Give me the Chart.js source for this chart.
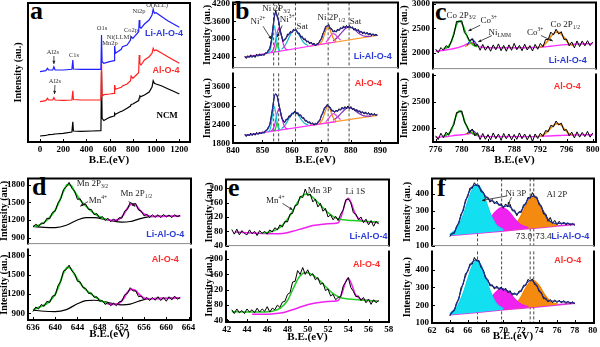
<!DOCTYPE html>
<html>
<head>
<meta charset="utf-8">
<script src="https://cdn.jsdelivr.net/npm/chart.js@4.4.1/dist/chart.umd.min.js"></script>
<style>
  html, body { margin: 0; padding: 0; background: #fff; }
  #fig { position: relative; width: 600px; height: 347px; overflow: hidden; }
  #fig canvas { position: absolute; }
  .tag { position: absolute; font: bold 26px "Liberation Serif", "Times New Roman", serif; line-height: 26px; color: #000; }
</style>
</head>
<body>
<div id="fig">
  <div class="tag" style="left:30px;top:-2px">a</div>
  <div class="tag" style="left:235px;top:-2px">b</div>
  <div class="tag" style="left:435px;top:-1px">c</div>
  <div class="tag" style="left:32px;top:174px">d</div>
  <div class="tag" style="left:228px;top:175px">e</div>
  <div class="tag" style="left:437px;top:175px">f</div>
</div>
<script>
// ---- survey (a) ----
const aX = [0,50,65,75,110,120,130,200,275,283,288,350,450,525,530,535,550,600,638,643,650,700,710,750,780,785,800,850,855,860,870,900,940,965,975,985,1000,1050,1100,1150,1200];
const aNcm = [6,6.7,7,7.3,7.5,7.8,8,8.7,10,20.3,11,10.7,11,11.3,70,23.7,21.5,24.7,26,28.7,27.7,30.7,31,33.7,36,37.5,38,41.5,44,46,45.5,47,50,55,61.3,58.7,58,56,53.3,50.7,48];
const aAlO4 = [40.3,41.3,43.7,42,42,44.3,42,41.7,42,51.3,42.5,42,42,42,80.3,46,47.3,48,48.7,57,52.7,54.7,56,58,61.3,66,63.7,69.3,87,78.7,77,82,85.3,88.7,93.7,91.3,92,88.7,85.3,82,78.7];
const aLiAlO4 = [70.3,71.3,73.7,72,72,75.3,72,72,72.7,82,73,72.7,72.7,72.7,107,80.3,78.7,80.3,81.3,96,88.7,92.7,95.3,97,102,105.3,103.7,110.3,122,115.3,113.7,118,122,127,132.7,128.7,129.3,125.3,121.3,118,114.7];
const aTicks = [0,200,400,600,800,1000,1200];

// ---- Ni 2p (b) ----
const bX = [844,844.5,845,845.5,846,846.5,847,847.5,848,848.5,849,849.5,850,850.5,851,851.5,852,852.5,853,853.5,854,854.5,855,855.5,856,856.5,857,857.5,858,858.5,859,859.5,860,860.5,861,861.5,862,862.5,863,863.5,864,864.5,865,865.5,866,866.5,867,867.5,868,868.5,869,869.5,870,870.5,871,871.5,872,872.5,873,873.5,874,874.5,875,875.5,876,876.5,877,877.5,878,878.5,879,879.5,880,880.5,881,881.5,882,882.5,883,883.5,884,884.5,885,885.5,886,886.5,887,887.5,888,888.5,889];
const bUpRaw = [2410,2335,2430,2375,2460,2370,2438,2370,2480,2410,2495,2425,2490,2435,2530,2520,2630,2670,2940,3350,3720,3960,3750,3620,3260,3110,2910,3000,3010,3170,3150,3260,3210,3330,3280,3320,3180,3200,3050,3090,2970,3015,2890,2935,2830,2895,2800,2860,2760,2850,2830,2960,2990,3190,3260,3440,3430,3490,3340,3350,3230,3290,3230,3340,3280,3385,3340,3445,3370,3460,3380,3460,3370,3415,3300,3365,3270,3325,3210,3265,3170,3245,3160,3230,3130,3205,3110,3180,3100,3170,3100];
const bLoRaw = [2103,2022,2096,2046,2130,2053,2125,2063,2155,2088,2165,2108,2175,2125,2220,2220,2330,2390,2680,2940,3330,3370,3340,3050,2880,2610,2550,2460,2580,2560,2690,2650,2770,2740,2840,2740,2790,2680,2720,2605,2630,2510,2540,2450,2500,2415,2465,2385,2450,2415,2520,2530,2710,2760,2940,2950,3050,2960,2960,2830,2860,2790,2870,2820,2910,2860,2960,2895,2980,2915,3000,2915,2980,2880,2930,2835,2890,2800,2850,2760,2820,2740,2810,2730,2790,2705,2770,2695,2760,2690,2730];
const bFitX = [844,846,848,850,851,852,852.5,853,853.5,854,854.5,855,855.5,856,856.5,857,857.5,858,859,860,861,862,863,864,865,866,867,868,869,869.5,870,870.5,871,871.5,872,872.5,873,873.5,874,874.5,875,876,877,878,879,880,881,882,884,886,889];
const bUpFit = [2380,2400,2435,2455,2500,2590,2700,2920,3300,3750,3900,3800,3580,3300,3080,2960,2960,3040,3170,3240,3300,3220,3100,3000,2930,2880,2830,2800,2850,2920,3020,3150,3300,3400,3450,3440,3380,3320,3270,3250,3260,3320,3370,3400,3420,3400,3350,3300,3220,3170,3120];
const bLoFit = [2063,2080,2110,2140,2190,2290,2420,2650,2980,3280,3390,3300,3100,2850,2650,2520,2490,2540,2640,2740,2800,2760,2680,2590,2510,2460,2430,2420,2480,2560,2680,2800,2900,2980,3010,2990,2930,2870,2830,2820,2830,2870,2910,2940,2950,2940,2900,2850,2790,2750,2710];
const bCyanX = [852,852.5,853,853.5,854,854.5,855,855.5,856];
const bUpCyan = [2521,2581,2795,3202,3449,3219,2829,2632,2589];
const bLoCyan = [2179,2230,2416,2768,2982,2782,2444,2272,2235];
const bGreenX = [854,854.4,854.7,855,855.3,855.6,856];
const bUpGreen = [2553,2619,2766,2866,2776,2639,2587];
const bLoGreen = [2205,2263,2389,2476,2397,2280,2233];
const bMagX = [853,853.5,854,854.5,855,855.6,856.2,856.7,857.2,857.8,858.5];
const bUpMag = [2549,2605,2733,2958,3214,3376,3235,2995,2788,2664,2632];
const bLoMag = [2202,2249,2358,2549,2767,2905,2784,2580,2403,2299,2271];
const bSatX = [856.5,857.5,858.5,859.5,860.8,862,863,864,865.5];
const bUpSat = [2643,2753,2936,3149,3305,3210,3032,2875,2775];
const bLoSat = [2277,2365,2509,2675,2799,2726,2588,2467,2390];
const bHalfX = [869.5,870.3,871,871.6,872.2,872.8,873.4,874.1,875];
const bUpHalf = [2836,2949,3142,3325,3411,3344,3180,3010,2921];
const bLoHalf = [2455,2559,2738,2907,2986,2924,2771,2612,2528];
const bHalf2X = [871.5,872.5,873.3,874,874.7,875.5,876.5];
const bUpHalf2 = [2884,3006,3127,3180,3149,3054,2964];
const bLoHalf2 = [2494,2600,2705,2751,2725,2642,2564];
const bSat2X = [874,875.5,877,878.2,879.2,880.3,881.5,883,885,887];
const bUpSat2 = [2935,3058,3232,3354,3403,3381,3293,3169,3089,3092];
const bLoSat2 = [2539,2645,2795,2902,2943,2925,2848,2741,2673,2675];
const bBgX = [844,875];
const bUpBg = [2380,2904];
const bLoBg = [2060,2500];
const bBg2X = [866,889];
const bUpBg2 = [2752,3120];
const bLoBg2 = [2380,2700];
const bGuides = [853.8,855.5,861.2,872.3,879.4];
const bTicksX = [840,850,860,870,880,890];
const bUpTicksY = [2400,3000,3600,4200];
const bLoTicksY = [1800,2400,3000,3600];

// ---- Co 2p (c) ----
const cX = [776,776.4,776.8,777.2,777.6,778,778.4,778.8,779.2,779.6,780,780.4,780.8,781.2,781.6,782,782.4,782.8,783.2,783.6,784,784.4,784.8,785.2,785.6,786,786.4,786.8,787.2,787.6,788,788.4,788.8,789.2,789.6,790,790.4,790.8,791.2,791.6,792,792.4,792.8,793.2,793.6,794,794.4,794.8,795.2,795.6,796,796.4,796.8,797.2,797.6,798,798.4,798.8,799.2,799.6,800];
const cUpRaw = [2074,2000,2105,2050,2145,2100,2240,2370,2640,2630,2650,2410,2350,2240,2290,2140,2170,2050,2170,2050,2140,2030,2160,2060,2180,2040,2150,2030,2160,2050,2190,2060,2150,2040,2175,2055,2145,2035,2170,2070,2190,2120,2270,2270,2420,2360,2480,2380,2430,2270,2280,2140,2220,2100,2240,2125,2240,2140,2245,2145,2220];
const cLoRaw = [1861,1790,1910,1825,1930,1870,2000,2070,2300,2310,2330,2120,2040,1920,1990,1860,1920,1790,1905,1795,1885,1785,1915,1805,1895,1775,1905,1805,1895,1785,1885,1795,1915,1805,1895,1785,1885,1755,1895,1810,1910,1850,1960,1940,2060,2030,2140,2065,2100,1960,1980,1860,1930,1820,1935,1835,1925,1845,1945,1835,1915];
const cBgX = [776,777,778,779,780,781,781.5,782,783,785,788,791,792,793,794,795,796,797,798,800];
const cUpBg = [2030,2045,2065,2090,2130,2190,2210,2170,2110,2100,2100,2105,2110,2125,2140,2155,2165,2172,2178,2185];
const cLoBg = [1830,1840,1850,1870,1880,1900,1910,1880,1850,1845,1845,1845,1850,1856,1862,1867,1872,1875,1878,1880];
const cCoX = [777.2,777.8,778.4,778.9,779.3,779.7,780.1,780.6,781.1,781.7,782.3];
const cUpCo = [2085,2110,2220,2450,2610,2650,2580,2400,2250,2160,2120];
const cLoCo = [1860,1890,1960,2150,2290,2330,2260,2080,1960,1900,1870];
const cCo3X = [780.8,781.2,781.6,782,782.4];
const cUpCo3 = [2150,2230,2270,2220,2140];
const cLoCo3 = [1900,1950,1970,1930,1880];
const cNiX = [780.5,781,781.5,782,782.6];
const cUpNi = [2120,2170,2190,2160,2115];
const cLoNi = [1890,1915,1930,1905,1870];
const cHalfX = [791.8,792.4,793,793.6,794.2,794.7,795.2,795.8,796.4,797];
const cUpHalf = [2110,2140,2220,2330,2410,2420,2380,2280,2180,2150];
const cLoHalf = [1852,1875,1930,2010,2075,2090,2060,1970,1900,1880];
const cTicksX = [776,780,784,788,792,796,800];
const cTicksY = [2000,2500,3000];

// ---- Mn 2p (d) ----
const dX = [636,636.5,637,637.5,638,638.5,639,639.5,640,640.5,641,641.5,642,642.5,643,643.5,644,644.5,645,645.5,646,646.5,647,647.5,648,648.5,649,649.5,650,650.5,651,651.5,652,652.5,653,653.5,654,654.5,655,655.5,656,656.5,657,657.5,658,658.5,659,659.5,660,660.5,661,661.5,662,662.5];
const dUpRaw = [1080,1130,1090,1150,1140,1230,1220,1330,1350,1490,1560,1720,1760,1840,1740,1690,1550,1560,1460,1470,1380,1380,1290,1310,1230,1260,1190,1230,1170,1220,1170,1240,1230,1350,1380,1500,1470,1480,1370,1350,1270,1300,1240,1290,1245,1290,1240,1295,1250,1285,1240,1290,1255,1280];
const dLoRaw = [930,1000,970,1040,1010,1090,1070,1170,1180,1330,1400,1560,1580,1650,1560,1520,1400,1390,1300,1290,1210,1220,1150,1160,1090,1100,1040,1070,1020,1060,1020,1080,1090,1190,1210,1300,1250,1250,1160,1170,1110,1150,1100,1150,1105,1160,1100,1150,1090,1160,1110,1170,1120,1150];
const dMainX = [636,637,638,639,640,640.8,641.5,642.2,642.8,643.5,644.5,645.5,646.5,647.5,648.5,649.5];
const dUpMain = [1095,1110,1160,1245,1370,1530,1690,1800,1790,1680,1540,1440,1350,1280,1230,1200];
const dLoMain = [955,995,1030,1090,1200,1360,1530,1615,1600,1500,1370,1270,1200,1140,1085,1050];
const dBgX = [636,638,640,642,644,645.5,647,649,650.5,652,653.5,655,656.5,658,660,662.5];
const dUpBg = [1090,1075,1070,1110,1200,1240,1240,1210,1180,1165,1175,1215,1250,1260,1262,1265];
const dLoBg = [953,935,930,960,1050,1100,1105,1080,1050,1035,1045,1090,1125,1133,1135,1140];
const dHalfX = [649.5,650.5,651.5,652.3,653,653.7,654.4,655.2,656,657,658.5,660,662.5];
const dUpHalf = [1200,1195,1215,1290,1400,1470,1460,1370,1300,1265,1262,1265,1268];
const dLoHalf = [1050,1040,1060,1130,1230,1275,1260,1190,1140,1128,1130,1135,1140];
const dTicksX = [636,640,644,648,652,656,660,664];
const dTicksY = [900,1200,1500,1800];

// ---- Mn 3p / Li 1s (e) ----
const eX = [42.5,42.75,43,43.25,43.5,43.75,44,44.25,44.5,44.75,45,45.25,45.5,45.75,46,46.25,46.5,46.75,47,47.25,47.5,47.75,48,48.25,48.5,48.75,49,49.25,49.5,49.75,50,50.25,50.5,50.75,51,51.25,51.5,51.75,52,52.25,52.5,52.75,53,53.25,53.5,53.75,54,54.25,54.5,54.75,55,55.25,55.5,55.75,56,56.25,56.5,56.75,57];
const eUpRaw = [85,72,86,70,82,74,70,84,73,80,68,82,74,80,72,84,78,90,84,98,92,108,106,128,130,152,154,178,174,198,180,184,162,170,148,158,136,144,120,126,112,122,110,128,140,168,170,160,132,128,112,120,104,114,98,110,94,108,100];
const eLoRaw = [68,58,70,60,66,58,70,62,68,60,72,62,70,64,76,62,72,68,80,74,88,90,108,112,140,142,170,160,178,160,172,156,162,146,152,134,138,118,122,104,108,94,100,102,130,140,152,126,116,102,104,92,100,86,96,82,94,86,92];
const eUpMnX = [45.5,46.3,47,47.6,48.2,48.8,49.4,50,50.6,51.3,52,52.7,53.5,54.5,55.5,57];
const eUpMn = [75,78,86,100,122,152,178,184,172,152,132,118,112,110,108,106];
const eLoMnX = [42.5,44,45.5,46.5,47.3,48,48.6,49.2,49.8,50.4,51,51.7,52.4,53.2,54,55,56,57];
const eLoMn = [63,62,62,64,72,92,125,155,165,160,148,130,112,100,96,94,92,90];
const eUpLiX = [42.8,44,45.5,46.5,47.5,48.5,49.5,50.5,51.5,52.5,53,53.4,53.7,54,54.3,54.7,55.2,56,57];
const eUpLi = [78,76,74,73,74,80,88,96,100,102,104,130,160,172,158,128,112,106,104];
const eLoLiX = [44.5,45.5,46.5,47.5,48.5,49.5,50.5,51.5,52.5,53,53.4,53.7,54,54.3,54.7,55.2,56,57];
const eLoLi = [56,56,57,60,68,77,84,88,90,92,112,138,150,136,108,96,92,90];
const eTicksX = [42,44,46,48,50,52,54,56,58];
const eTicksY = [40,80,120,160,200];

// ---- Ni 3p / Al 2p (f) ----
const fX = [64,64.25,64.5,64.75,65,65.25,65.5,65.75,66,66.25,66.5,66.75,67,67.25,67.5,67.75,68,68.25,68.5,68.75,69,69.25,69.5,69.75,70,70.25,70.5,70.75,71,71.25,71.5,71.75,72,72.25,72.5,72.75,73,73.25,73.5,73.75,74,74.25,74.5,74.75,75,75.25,75.5,75.75,76,76.25,76.5,76.75,77,77.25,77.5,77.75,78];
const fUpRaw = [152,172,170,212,228,282,300,362,380,432,430,462,445,448,410,408,372,380,350,366,340,356,330,342,315,340,322,338,300,305,272,296,290,335,338,378,372,405,378,380,335,330,282,282,240,262,228,245,220,240,222,236,220,232,218,228,216];
const fLoRaw = [140,165,168,215,232,298,318,378,388,432,430,468,448,452,410,398,350,345,308,315,290,308,288,302,282,295,270,282,256,270,255,280,276,312,310,345,335,348,316,312,276,272,236,240,218,232,214,230,214,228,212,226,210,222,208,220,206];
const fFitX = [64,64.5,65,65.5,66,66.5,67,67.5,68,68.5,69,69.5,70,70.5,71,71.5,72,72.5,73,73.5,74,74.5,75,76,77,78];
const fUpFit = [159,178,235,310,390,440,450,420,385,362,350,338,325,330,310,285,300,345,380,385,345,295,250,228,228,222];
const fLoFit = [146,175,240,325,395,440,455,420,360,318,300,296,290,280,265,262,285,318,340,325,285,245,225,222,218,212];
const fBaseX = [64,66,68,70,72,74,76,78];
const fUpBase = [158,167,176,185,194,203,213,222];
const fLoBase = [146,155,165,174,183,192,202,211];
const fCyanX = [64,64.8,65.5,66,66.5,67,67.5,68,68.5,69.2,70];
const fUpCyan = [165,200,276,353,422,452,427,362,289,219,192];
const fLoCyan = [153,190,268,347,420,450,424,357,282,210,181];
const fMagX = [66.8,67.6,68.3,69,69.8,70.6,71.3,72,72.8];
const fUpMag = [177,198,238,289,319,296,252,218,204];
const fLoMag = [164,185,220,265,293,273,234,205,192];
const fAlX = [70.5,71.3,72,72.6,73.3,74,74.6,75.3,76.1];
const fUpAl = [191,217,274,339,380,345,286,235,217];
const fLoAl = [179,202,249,305,339,311,261,220,205];
const fGuides = [67.1,69.8,73.0,73.4];
const fTicksX = [62,64,66,68,70,72,74,76,78,80];
const fTicksY = [100,200,300,400];

const SERIF = '"Liberation Serif","Times New Roman",serif';
const SANS = '"Liberation Sans",Arial,sans-serif';
const BLUE = {family: SANS, bold: true, size: 9, color: '#2b3bd6'};
const RED = {family: SANS, bold: true, size: 9, color: '#ff2a2a'};
const TINY = {size: 6.5, color: '#333'};

Chart.defaults.font.family = SERIF;
Chart.defaults.font.size = 9;
Chart.defaults.font.weight = 'bold';
Chart.defaults.color = '#000';
Chart.defaults.animation = false;
Chart.defaults.elements.point.radius = 0;
Chart.defaults.plugins.legend.display = false;
Chart.defaults.plugins.tooltip.enabled = false;

function line(xs, ys, color, extra) {
  return Object.assign({
    data: xs.map((x, i) => ({x, y: ys[i]})),
    borderColor: color, borderWidth: 1, fill: false, tension: 0
  }, extra || {});
}
const smooth = {cubicInterpolationMode: 'monotone', borderWidth: 1.2};

// text with ^{sup} and _{sub} runs, centred on (x, y)
function drawRich(ctx, str, x, y, n) {
  const size = n.size || 9, fam = n.family || SERIF, wt = n.bold ? 'bold ' : '';
  const parts = [];
  str.split(/(\^\{[^}]*\}|_\{[^}]*\})/).forEach(s => {
    if (!s) return;
    if (s.startsWith('^{')) parts.push({t: s.slice(2, -1), k: 'sup'});
    else if (s.startsWith('_{')) parts.push({t: s.slice(2, -1), k: 'sub'});
    else parts.push({t: s, k: ''});
  });
  const fontOf = p => wt + (p.k ? size * 0.62 : size) + 'px ' + fam;
  let w = 0;
  parts.forEach(p => { ctx.font = fontOf(p); p.w = ctx.measureText(p.t).width; w += p.w; });
  let cx = x - w / 2;
  ctx.fillStyle = n.color || '#222';
  ctx.textBaseline = 'middle';
  ctx.textAlign = 'left';
  parts.forEach(p => {
    ctx.font = fontOf(p);
    const dy = p.k === 'sup' ? -size * 0.35 : p.k === 'sub' ? size * 0.3 : 0;
    ctx.fillText(p.t, cx, y + dy);
    cx += p.w;
  });
}

function arrow(ctx, x1, y1, x2, y2) {
  ctx.beginPath(); ctx.moveTo(x1, y1); ctx.lineTo(x2, y2); ctx.stroke();
  const a = Math.atan2(y2 - y1, x2 - x1), h = 3.5;
  ctx.beginPath();
  ctx.moveTo(x2, y2);
  ctx.lineTo(x2 - h * Math.cos(a - 0.45), y2 - h * Math.sin(a - 0.45));
  ctx.lineTo(x2 - h * Math.cos(a + 0.45), y2 - h * Math.sin(a + 0.45));
  ctx.closePath(); ctx.fill();
}

// frame, divider, inward ticks, dashed guides and labels
Chart.register({
  id: 'decor',
  beforeDatasetsDraw(chart, args, o) {
    if (!o.vlines) return;
    const {ctx, chartArea: a} = chart, sx = chart.scales.x;
    ctx.save();
    ctx.setLineDash([3, 2]); ctx.lineWidth = 0.9; ctx.strokeStyle = '#333';
    o.vlines.forEach(v => {
      const px = sx.getPixelForValue(v);
      ctx.beginPath(); ctx.moveTo(px, a.top); ctx.lineTo(px, a.bottom); ctx.stroke();
    });
    ctx.restore();
  },
  afterDraw(chart, args, o) {
    const {ctx, chartArea: a} = chart, sx = chart.scales.x, sy = chart.scales.y;
    ctx.save();
    ctx.strokeStyle = '#000'; ctx.lineWidth = 2; ctx.lineCap = 'square';
    ctx.beginPath();
    ctx.moveTo(a.left, a.top); ctx.lineTo(a.left, a.bottom);
    ctx.moveTo(a.right, a.top); ctx.lineTo(a.right, a.bottom);
    if (o.part !== 'lower') { ctx.moveTo(a.left, a.top); ctx.lineTo(a.right, a.top); }
    if (o.part !== 'upper') { ctx.moveTo(a.left, a.bottom); ctx.lineTo(a.right, a.bottom); }
    ctx.stroke();
    if (o.part === 'upper') {
      ctx.strokeStyle = '#8a8a8a'; ctx.lineWidth = 1; ctx.lineCap = 'butt';
      ctx.beginPath(); ctx.moveTo(a.left, a.bottom); ctx.lineTo(a.right, a.bottom); ctx.stroke();
    }
    ctx.strokeStyle = '#000'; ctx.lineWidth = 1; ctx.lineCap = 'butt';
    if (sy.options.ticks.display) sy.ticks.forEach(t => {
      const py = Math.round(sy.getPixelForValue(t.value)) + 0.5;
      ctx.beginPath(); ctx.moveTo(a.left, py); ctx.lineTo(a.left + 3, py); ctx.stroke();
    });
    if (sx.options.display) sx.ticks.forEach(t => {
      const px = Math.round(sx.getPixelForValue(t.value)) + 0.5;
      ctx.beginPath(); ctx.moveTo(px, a.bottom); ctx.lineTo(px, a.bottom - 3); ctx.stroke();
    });
    (o.notes || []).forEach(n => drawRich(ctx, n.t, sx.getPixelForValue(n.x), sy.getPixelForValue(n.y), n));
    ctx.strokeStyle = '#222'; ctx.fillStyle = '#222'; ctx.lineWidth = 0.8;
    (o.arrows || []).forEach(([x1, y1, x2, y2]) => arrow(ctx,
      sx.getPixelForValue(x1), sy.getPixelForValue(y1), sx.getPixelForValue(x2), sy.getPixelForValue(y2)));
    ctx.restore();
  }
});

const fig = document.getElementById('fig');

// box is the plot frame in page pixels; the canvas gets extra room for the axes
function panel(box, o) {
  const padT = 8, padR = 8, padB = o.showX ? o.padB : 3;
  const cv = document.createElement('canvas');
  cv.width = Math.round(box.r - box.l + o.padL + padR);
  cv.height = Math.round(box.b - box.t + padT + padB);
  cv.style.left = (box.l - o.padL) + 'px';
  cv.style.top = (box.t - padT) + 'px';
  fig.appendChild(cv);
  const fixed = list => s => { s.ticks = list.map(v => ({value: v})); };
  return new Chart(cv, {
    type: 'line',
    data: {datasets: o.datasets},
    options: {
      responsive: false,
      layout: {autoPadding: false, padding: {left: 0, top: padT, right: padR, bottom: o.showX ? 0 : padB}},
      scales: {
        x: {
          type: 'linear', min: o.x[0], max: o.x[1], display: !!o.showX,
          grid: {display: false, drawTicks: false}, border: {display: false},
          ticks: {padding: 2, autoSkip: false, maxRotation: 0, callback: v => String(v)},
          afterBuildTicks: fixed(o.xTicks || []),
          afterFit: s => { s.height = o.padB || 0; },
          title: {display: true, text: 'B.E.(eV)', font: {size: 11, weight: 'bold'}, padding: 0}
        },
        y: {
          type: 'linear', min: o.y[0], max: o.y[1],
          grid: {display: false, drawTicks: false}, border: {display: false},
          ticks: {display: !!o.yTicks, padding: 3, autoSkip: false, callback: v => String(v)},
          afterBuildTicks: fixed(o.yTicks || []),
          afterFit: s => { s.width = o.padL; },
          title: {display: true, text: 'Intensity (au.)', font: {size: 10, weight: 'bold'}, padding: 0}
        }
      },
      plugins: {decor: {part: o.part, notes: o.notes, arrows: o.arrows, vlines: o.vlines}}
    }
  });
}

// a: survey spectra
panel({l: 28, t: 3, r: 190, b: 142}, {
  part: 'single', showX: true, padL: 16, padB: 25,
  x: [-103, 1292], y: [0, 139], xTicks: aTicks,
  datasets: [
    line(aX, aLiAlO4, '#1f1fff', {borderWidth: 1.2}),
    line(aX, aAlO4, '#ff1f1f', {borderWidth: 1.2}),
    line(aX, aNcm, '#000', {borderWidth: 1.2})
  ],
  notes: [
    {x: 112, y: 90, t: 'Al2s', ...TINY}, {x: 293, y: 87, t: 'C1s', ...TINY},
    {x: 534, y: 114, t: 'O1s', ...TINY}, {x: 603, y: 99, t: 'Mn2p', ...TINY},
    {x: 681, y: 105, t: 'Ni(LLM)', ...TINY}, {x: 784, y: 112, t: 'Co2p', ...TINY},
    {x: 853, y: 131, t: 'Ni2p', ...TINY}, {x: 1009, y: 137, t: 'O(KLL)', ...TINY},
    {x: 129, y: 61, t: 'Al2s', ...TINY},
    {x: 1069, y: 108, t: 'Li-Al-O-4', ...BLUE},
    {x: 1086, y: 71, t: 'Al-O-4', ...RED},
    {x: 1095, y: 26, t: 'NCM', family: SERIF, bold: true, size: 9, color: '#000'}
  ],
  arrows: [[120, 86, 120, 78], [129, 57, 125, 48]]
});

// b: Ni 2p
const bSets = (raw, fit, cyan, green, mag, sat, half, half2, sat2, bg, bg2) => [
  line(bFitX, fit, '#2b2b9e', smooth),
  line(bX, raw, '#000'),
  line(bCyanX, cyan, '#14c8e0', smooth),
  line(bGreenX, green, '#10c010', smooth),
  line(bMagX, mag, '#e81ee8', smooth),
  line(bSatX, sat, '#14b4c8', smooth),
  line(bHalfX, half, '#f08a10', smooth),
  line(bHalf2X, half2, '#e040e0', smooth),
  line(bSat2X, sat2, '#8a2fc0', smooth),
  line(bBgX, bg, '#ff30ff', {borderWidth: 1.2}),
  line(bBg2X, bg2, '#ff9a30', {borderWidth: 1.2})
];
panel({l: 232.5, t: 2, r: 397, b: 73}, {
  part: 'upper', padL: 32, x: [840, 896], y: [2025, 4244], yTicks: bUpTicksY, vlines: bGuides,
  datasets: bSets(bUpRaw, bUpFit, bUpCyan, bUpGreen, bUpMag, bUpSat, bUpHalf, bUpHalf2, bUpSat2, bUpBg, bUpBg2),
  notes: [
    {x: 854.7, y: 4040, t: 'Ni 2P_{3/2}'}, {x: 848.5, y: 3590, t: 'Ni^{2+}'},
    {x: 858.4, y: 3650, t: 'Ni^{3+}'}, {x: 863.5, y: 3430, t: 'Sat'},
    {x: 873.4, y: 3710, t: 'Ni 2P_{1/2}'}, {x: 881.6, y: 3590, t: 'Sat'},
    {x: 887.4, y: 2400, t: 'Li-Al-O-4', ...BLUE}
  ],
  arrows: [[850.2, 3430, 853.0, 2990], [856.7, 3460, 855.0, 3060]]
});
panel({l: 232.5, t: 73, r: 397, b: 143}, {
  part: 'lower', showX: true, padL: 32, padB: 24, x: [840, 896], y: [1815, 4040],
  xTicks: bTicksX, yTicks: bLoTicksY, vlines: bGuides,
  datasets: bSets(bLoRaw, bLoFit, bLoCyan, bLoGreen, bLoMag, bLoSat, bLoHalf, bLoHalf2, bLoSat2, bLoBg, bLoBg2),
  notes: [{x: 885.9, y: 3708, t: 'Al-O-4', ...RED}]
});

// c: Co 2p
const cSets = (raw, bg, co, co3, ni, half) => [
  line(cX, raw, '#000'),
  line(cCoX, co, '#10c010', {...smooth, borderWidth: 1.6}),
  line(cCo3X, co3, '#2a2ae0', smooth),
  line(cNiX, ni, '#f08a10', smooth),
  line(cHalfX, half, '#f08a10', {...smooth, borderWidth: 1.6}),
  line(cBgX, bg, '#ff30ff', {...smooth, borderWidth: 1.4})
];
panel({l: 433, t: 2, r: 596, b: 74}, {
  part: 'upper', padL: 35, x: [775.6, 800.5], y: [1676, 3026], yTicks: cTicksY,
  datasets: cSets(cUpRaw, cUpBg, cUpCo, cUpCo3, cUpNi, cUpHalf),
  notes: [
    {x: 779.9, y: 2763, t: 'Co 2P_{3/2}'}, {x: 784.1, y: 2650, t: 'Co^{3+}'},
    {x: 785.8, y: 2407, t: 'Ni_{LMM}'}, {x: 791.2, y: 2407, t: 'Co^{3+}'},
    {x: 795.8, y: 2575, t: 'Co 2P_{1/2}'},
    {x: 796.2, y: 1835, t: 'Li-Al-O-4', ...BLUE}
  ],
  arrows: [[782.8, 2560, 781, 2444], [784.6, 2350, 782.5, 2220], [792.1, 2350, 793.9, 2238]]
});
panel({l: 433, t: 74, r: 596, b: 142}, {
  part: 'lower', showX: true, padL: 35, padB: 25, x: [775.6, 800.5], y: [1744, 3018],
  xTicks: cTicksX, yTicks: cTicksY,
  datasets: cSets(cLoRaw, cLoBg, cLoCo, cLoCo3, cLoNi, cLoHalf),
  notes: [{x: 796.1, y: 2786, t: 'Al-O-4', ...RED}]
});

// d: Mn 2p
const dSets = (raw, main, half, bg) => [
  line(dX, raw, '#000'),
  line(dMainX, main, '#22cc22', {...smooth, borderWidth: 1.8}),
  line(dHalfX, half, '#ee22ee', {...smooth, borderWidth: 1.8}),
  line(dBgX, bg, '#000', smooth)
];
panel({l: 28, t: 178, r: 190.5, b: 249}, {
  part: 'upper', padL: 30, x: [635.1, 664.45], y: [799, 1907], yTicks: dTicksY,
  datasets: dSets(dUpRaw, dUpMain, dUpHalf, dUpBg),
  notes: [
    {x: 646.7, y: 1813, t: 'Mn 2P_{3/2}'}, {x: 647.7, y: 1524, t: 'Mn^{4+}'},
    {x: 654.6, y: 1642, t: 'Mn 2P_{1/2}'},
    {x: 659.8, y: 955, t: 'Li-Al-O-4', ...BLUE}
  ],
  arrows: [[645.9, 1513, 644.5, 1435], [653.2, 1517, 654.4, 1430]]
});
panel({l: 28, t: 249, r: 190.5, b: 320}, {
  part: 'lower', showX: true, padL: 30, padB: 21, x: [635.1, 664.45], y: [799, 1894],
  xTicks: dTicksX, yTicks: dTicksY,
  datasets: dSets(dLoRaw, dLoMain, dLoHalf, dLoBg),
  notes: [{x: 659.8, y: 1732, t: 'Al-O-4', ...RED}]
});

// e: Mn 3p and Li 1s
const eSets = (raw, mnX, mn, liX, li) => [
  line(eX, raw, '#000'),
  line(mnX, mn, '#22cc22', {...smooth, borderWidth: 1.5}),
  line(liX, li, '#ee22ee', {...smooth, borderWidth: 1.5})
];
panel({l: 226, t: 179, r: 388.5, b: 251}, {
  part: 'upper', padL: 23, x: [41.93, 58.02], y: [40, 225], yTicks: eTicksY,
  datasets: eSets(eUpRaw, eUpMnX, eUpMn, eUpLiX, eUpLi),
  notes: [
    {x: 46.8, y: 166, t: 'Mn^{4+}'}, {x: 51.2, y: 194, t: 'Mn 3P'},
    {x: 54.7, y: 191, t: 'Li 1S'},
    {x: 56.0, y: 66, t: 'Li-Al-O-4', ...BLUE}
  ],
  arrows: [[47.5, 158, 48.5, 140]]
});
panel({l: 226, t: 251, r: 388.5, b: 321.5}, {
  part: 'lower', showX: true, padL: 23, padB: 22, x: [41.93, 58.02], y: [36, 220],
  xTicks: eTicksX, yTicks: eTicksY,
  datasets: eSets(eLoRaw, eLoMnX, eLoMn, eLoLiX, eLoLi),
  notes: [{x: 55.8, y: 185, t: 'Al-O-4', ...RED}]
});

// f: Ni 3p and Al 2p, peaks filled down to the baseline (dataset 5)
const fSets = (raw, fit, cyan, mag, al, base) => [
  line(fFitX, fit, '#1f2f9a', smooth),
  line(fX, raw, '#000'),
  line(fCyanX, cyan, '#10d8e8', {...smooth, fill: 5, backgroundColor: '#12e0f0'}),
  line(fMagX, mag, '#f018f0', {...smooth, fill: 5, backgroundColor: '#f022f0'}),
  line(fAlX, al, '#f08000', {...smooth, fill: 5, backgroundColor: '#f58a10'}),
  line(fBaseX, base, '#e030e0', {borderWidth: 1.6})
];
panel({l: 432, t: 178, r: 594, b: 251}, {
  part: 'upper', padL: 31, x: [62, 80.15], y: [100, 487], yTicks: fTicksY, vlines: fGuides,
  datasets: fSets(fUpRaw, fUpFit, fUpCyan, fUpMag, fUpAl, fUpBase),
  notes: [
    {x: 71.4, y: 399, t: 'Ni 3P'}, {x: 76.0, y: 392, t: 'Al 2P'},
    {x: 72.3, y: 151, t: '73.0', family: SANS, size: 8.5, color: '#333'},
    {x: 74.5, y: 151, t: '73.4', family: SANS, size: 8.5, color: '#333'},
    {x: 77.5, y: 153, t: 'Li-Al-O-4', ...BLUE}
  ],
  arrows: [[70.4, 386, 67.6, 360], [70.9, 380, 70.5, 333]]
});
panel({l: 432, t: 251, r: 594, b: 323.3}, {
  part: 'lower', showX: true, padL: 31, padB: 20, x: [62, 80.15], y: [100, 502],
  xTicks: fTicksX, yTicks: fTicksY, vlines: fGuides,
  datasets: fSets(fLoRaw, fLoFit, fLoCyan, fLoMag, fLoAl, fLoBase),
  notes: [{x: 77.2, y: 449, t: 'Al-O-4', ...RED}]
});
</script>
</body>
</html>
